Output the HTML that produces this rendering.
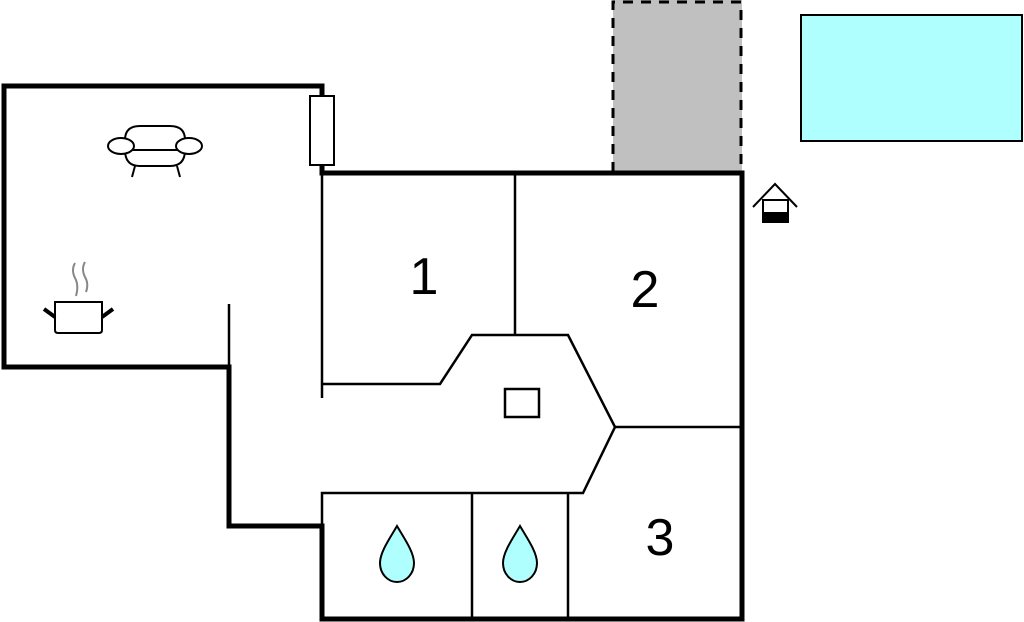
<!DOCTYPE html>
<html><head><meta charset="utf-8"><style>html,body{margin:0;padding:0;background:#fff}svg{display:block}</style></head>
<body>
<svg width="1024" height="622" viewBox="0 0 1024 622" xmlns="http://www.w3.org/2000/svg">
<rect x="0" y="0" width="1024" height="622" fill="#fff"/>
<!-- garage grey dashed -->
<rect x="613" y="0" width="129" height="172" fill="#c0c0c0"/>
<path d="M613,172 V2 H741 V172" fill="none" stroke="#000" stroke-width="3" stroke-dasharray="10,8"/>
<!-- pool -->
<rect x="801" y="15" width="221" height="126" fill="#b0ffff" stroke="#000" stroke-width="2"/>
<!-- thick outer walls -->
<g fill="none" stroke="#000" stroke-width="5" stroke-linejoin="miter" stroke-linecap="square">
<path d="M322,96 V86 H4 V367 H229 V526 H322 V619 H742 V173 H322 V167"/>
</g>
<!-- window -->
<rect x="310" y="96" width="24" height="69" fill="#fff" stroke="#000" stroke-width="2"/>
<!-- thin walls -->
<g fill="none" stroke="#000" stroke-width="2.5">
<path d="M322,173 V398"/>
<path d="M229,304 V367"/>
<path d="M515,173 V335"/>
<path d="M322,384 H440 L472,335 H568 L615,427 L583,493 H322 V526"/>
<path d="M615,427 H742"/>
<path d="M472,493 V619"/>
<path d="M568,493 V619"/>
</g>
<!-- inner rect -->
<rect x="505" y="389" width="34" height="28" fill="none" stroke="#000" stroke-width="2.5"/>
<!-- labels -->
<g font-family="Liberation Sans, sans-serif" font-size="52" fill="#000" text-anchor="middle">
<text x="424" y="294">1</text>
<text x="645" y="307">2</text>
<text x="660" y="555">3</text>
</g>
<!-- drops -->
<g fill="#b0ffff" stroke="#000" stroke-width="2">
<path d="M397,526 C390,538 380,552 380,563 C380,574 388,582 397,582 C406,582 414,574 414,563 C414,552 404,538 397,526 Z"/>
<path d="M520,526 C513,538 503,552 503,563 C503,574 511,582 520,582 C529,582 537,574 537,563 C537,552 527,538 520,526 Z"/>
</g>
<!-- well/house icon -->
<g stroke="#000" stroke-width="2" fill="none">
<path d="M753,207 L775,184 L797,207"/>
<rect x="763" y="200" width="25" height="22" fill="#fff"/>
</g>
<rect x="762" y="212" width="27" height="11" fill="#000"/>
<!-- sofa -->
<g fill="#fff" stroke="#000" stroke-width="2">
<path d="M125,140 Q125,126 140,126 H170 Q185,126 185,140 V150 Q185,166 170,166 H140 Q125,166 125,150 Z"/>
<line x1="130" y1="150" x2="180" y2="150"/>
<ellipse cx="121" cy="146" rx="13" ry="8"/>
<ellipse cx="189" cy="146" rx="13" ry="8"/>
<line x1="135" y1="166" x2="132" y2="177"/>
<line x1="177" y1="166" x2="180" y2="177"/>
</g>
<!-- pot -->
<g stroke="#000" fill="#fff">
<path d="M55,302 H102 V330 Q102,333 99,333 H58 Q55,333 55,330 Z" stroke-width="2"/>
<line x1="44" y1="309" x2="55" y2="317" stroke-width="4"/>
<line x1="113" y1="309" x2="102" y2="317" stroke-width="4"/>
</g>
<g stroke="#888" stroke-width="2" fill="none">
<path d="M75,263 Q71,270 75,278 Q79,285 76,296"/>
<path d="M85,262 Q81,269 85,277 Q89,284 86,292"/>
</g>
</svg>
</body></html>
